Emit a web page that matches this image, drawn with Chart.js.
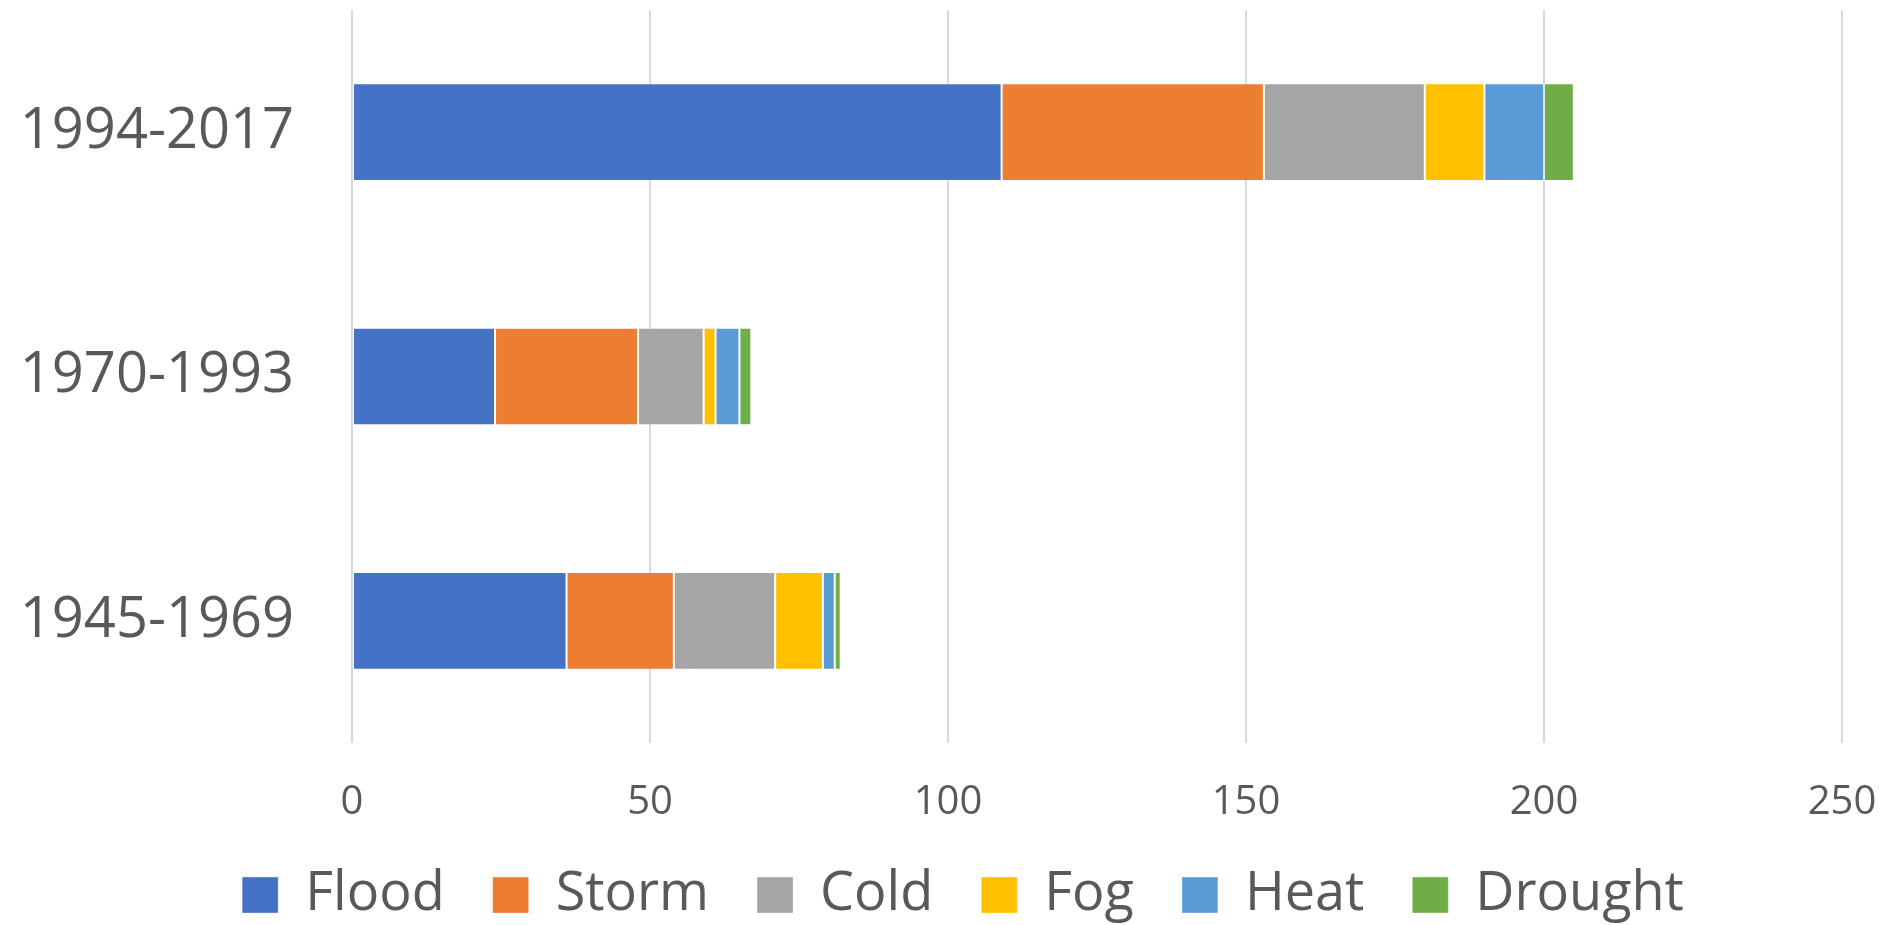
<!DOCTYPE html>
<html>
<head>
<meta charset="utf-8">
<script src="https://cdn.jsdelivr.net/npm/chart.js@4/dist/chart.umd.min.js"></script>
<style>
  html, body { margin: 0; padding: 0; background: #ffffff; }
  #wrap { width: 1888px; height: 925px; position: relative; }
</style>
</head>
<body>
<div id="wrap"><canvas id="c"></canvas></div>
<script>
const categories = ["1994-2017", "1970-1993", "1945-1969"];
const flood   = [109, 24, 36];
const storm   = [44, 24, 18];
const cold    = [27, 11, 17];
const fog     = [10, 2, 8];
const heat    = [10, 4, 2];
const drought = [5, 2, 1];
const seriesNames = ["Flood", "Storm", "Cold", "Fog", "Heat", "Drought"];
const seriesColors = ["#4472C4", "#ED7D31", "#A5A5A5", "#FFC000", "#5B9BD5", "#70AD47"];
const seriesValues = [flood, storm, cold, fog, heat, drought];
const xTicks = [0, 50, 100, 150, 200, 250];

const FONT = "'Open Sans', 'Liberation Sans', sans-serif";
const TEXT = "#595959";

new Chart(document.getElementById('c'), {
  type: 'bar',
  data: {
    labels: categories,
    datasets: seriesNames.map((n, i) => ({
      label: n,
      data: seriesValues[i],
      backgroundColor: seriesColors[i],
      borderColor: 'rgba(255,255,255,0.35)',
      borderWidth: 1,
      borderSkipped: false,
      barPercentage: 0.4,
      categoryPercentage: 1.0
    }))
  },
  options: {
    indexAxis: 'y',
    responsive: true,
    maintainAspectRatio: false,
    animation: false,
    layout: { padding: { top: 10, right: -38, left: 0, bottom: -7 } },
    plugins: {
      tooltip: { enabled: false },
      legend: {
        position: 'bottom',
        align: 'center',
        labels: {
          color: TEXT,
          font: { family: FONT, size: 54 },
          boxWidth: 36,
          boxHeight: 36,
          padding: 48
        }
      }
    },
    scales: {
      x: {
        stacked: true,
        min: 0,
        max: 250,
        afterBuildTicks: (s) => { s.ticks = xTicks.map(v => ({ value: v })); },
        ticks: { color: TEXT, font: { family: FONT, size: 40 }, padding: 36 },
        grid: { color: '#D9D9D9', lineWidth: 2, drawTicks: false },
        border: { display: false },
        afterFit: (s) => { s.height = 77; s.paddingLeft = 0; s.paddingRight = 46; }
      },
      y: {
        stacked: true,
        ticks: { color: TEXT, font: { family: FONT, size: 56 }, padding: 58 },
        grid: { display: false, drawTicks: false },
        border: { display: false },
        afterFit: (s) => { s.width = 352; s.paddingTop = 0; s.paddingBottom = 0; }
      }
    }
  }
});
</script>
</body>
</html>
